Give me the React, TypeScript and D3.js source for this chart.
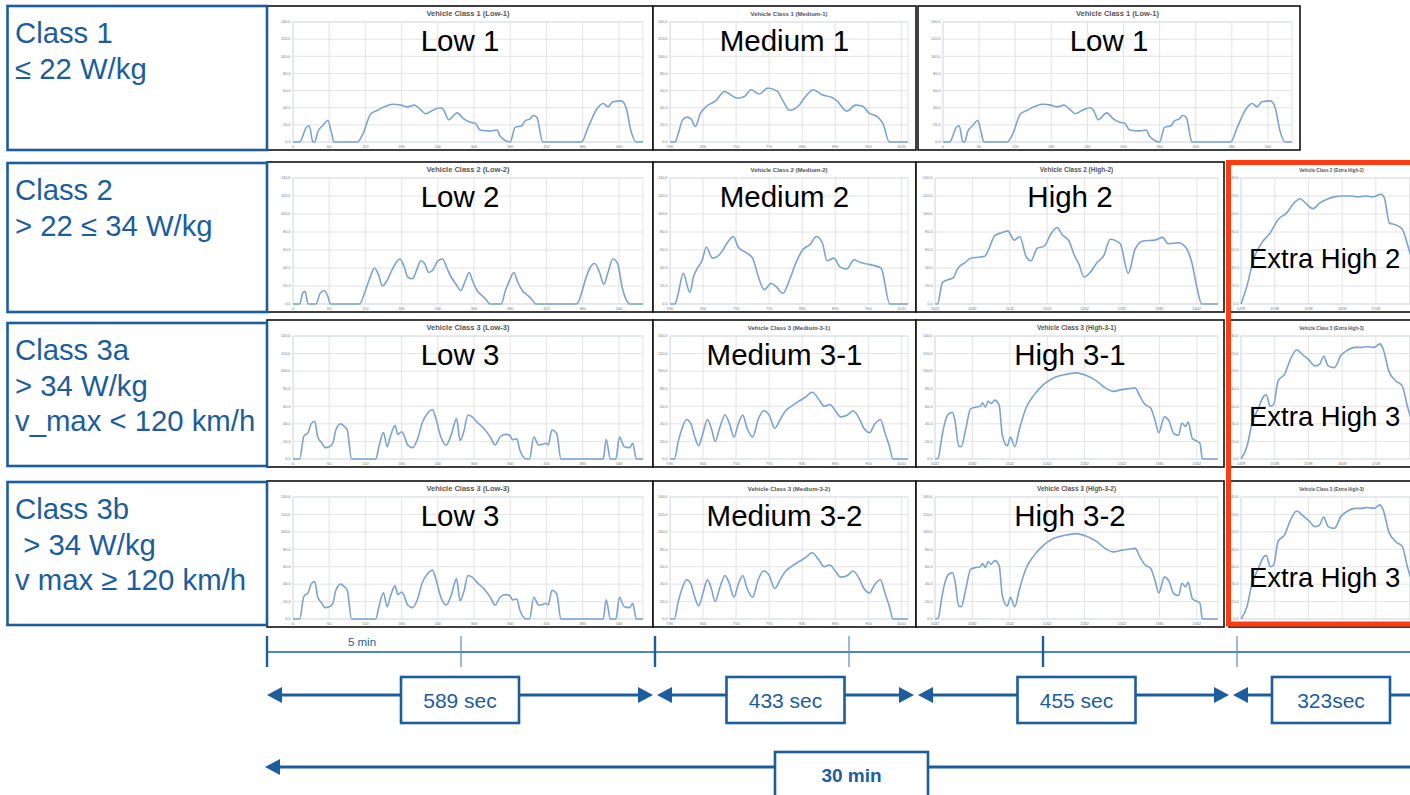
import React from "react";
import * as d3 from "d3";

type Pt = [number, number];

// ---------------- data (time in s, speed in km/h) ----------------
const low1: Pt[] = [
  [0, 0], [11, 0], [22, 17], [27, 19], [33, 0], [36, 0], [41, 12], [49, 19], [58, 25], [63, 13], [68, 0],
  [107, 0], [115, 8], [129, 33], [140, 37], [151, 41], [165, 44], [179, 43], [190, 41], [201, 43], [211, 38],
  [220, 33], [234, 38], [245, 40], [250, 37], [258, 26], [272, 34], [283, 27], [294, 23], [302, 22], [310, 14],
  [327, 13], [338, 14], [343, 7], [360, 0], [368, 17], [379, 19], [385, 25], [393, 27], [398, 31], [404, 29],
  [414, 0], [478, 0], [489, 17], [503, 38], [514, 45], [522, 41], [530, 47], [544, 48], [552, 40], [560, 13],
  [569, 0], [580, 0],
];
const medium1: Pt[] = [
  [590, 0], [599, 0], [605, 10], [613, 26], [621, 29], [628, 27], [636, 18], [645, 33], [657, 42], [673, 48],
  [689, 59], [700, 55], [712, 51], [725, 53], [737, 61], [752, 56], [768, 63], [785, 59], [795, 48], [807, 37],
  [823, 42], [836, 53], [850, 61], [866, 55], [884, 52], [893, 48], [911, 36], [927, 43], [939, 42], [951, 34],
  [967, 29], [977, 21], [988, 0], [1022, 0],
];
const low2: Pt[] = [
  [0, 0], [11, 0], [16, 12], [20, 14], [25, 0], [38, 0], [45, 12], [52, 15], [58, 8], [62, 0], [110, 0],
  [120, 15], [128, 30], [135, 40], [142, 32], [148, 20], [155, 25], [162, 35], [170, 45], [177, 50], [184, 42],
  [190, 30], [198, 28], [205, 38], [212, 48], [218, 45], [225, 35], [232, 38], [240, 48], [248, 50], [255, 40],
  [262, 30], [270, 22], [278, 15], [285, 25], [292, 35], [298, 25], [305, 15], [312, 10], [320, 5], [326, 0],
  [345, 0], [352, 15], [360, 28], [366, 35], [372, 25], [380, 15], [388, 10], [396, 5], [402, 0], [470, 0],
  [478, 12], [485, 28], [492, 40], [500, 45], [508, 35], [515, 22], [522, 35], [530, 50], [538, 45], [545, 20],
  [552, 5], [558, 0], [580, 0],
];
const medium2: Pt[] = [
  [590, 0], [599, 0], [605, 12], [614, 34], [626, 13], [633, 31], [639, 39], [648, 48], [656, 63], [667, 51],
  [676, 53], [685, 59], [694, 68], [705, 75], [714, 63], [728, 57], [740, 51], [749, 33], [761, 16], [774, 23],
  [783, 19], [795, 12], [807, 27], [820, 48], [832, 61], [844, 66], [856, 75], [867, 67], [875, 48], [887, 51],
  [899, 41], [911, 39], [924, 49], [936, 46], [951, 44], [973, 40], [989, 0], [1022, 0],
];
const high2: Pt[] = [
  [1022, 0], [1026, 0], [1034, 24], [1043, 27], [1051, 29], [1059, 40], [1070, 46], [1080, 51], [1091, 52],
  [1102, 53], [1107, 59], [1118, 76], [1128, 79], [1139, 81], [1149, 71], [1158, 75], [1168, 53], [1176, 48],
  [1186, 62], [1197, 64], [1208, 78], [1218, 85], [1226, 77], [1237, 70], [1245, 55], [1253, 44], [1261, 30],
  [1272, 36], [1282, 46], [1293, 54], [1303, 72], [1319, 67], [1332, 34], [1343, 61], [1356, 70], [1375, 71],
  [1387, 74], [1396, 67], [1412, 68], [1423, 64], [1434, 46], [1442, 19], [1450, 0], [1476, 0],
];
const extraHigh2: Pt[] = [
  [1478, 0], [1489, 21], [1500, 49], [1515, 68], [1530, 79], [1544, 94], [1559, 101], [1572, 112], [1583, 117],
  [1593, 112], [1606, 106], [1618, 112], [1630, 116], [1644, 119], [1659, 120], [1674, 120], [1686, 119],
  [1700, 120], [1713, 119], [1727, 122], [1733, 118], [1742, 90], [1753, 88], [1765, 83], [1777, 60],
  [1789, 35], [1800, 0],
];
const low3: Pt[] = [
  [0, 0], [11, 0], [18, 26], [25, 30], [30, 40], [36, 43], [41, 25], [48, 18], [53, 13], [60, 14], [66, 18],
  [71, 33], [79, 40], [85, 37], [90, 33], [97, 0], [137, 0], [143, 16], [150, 30], [156, 14], [161, 25], [169, 38],
  [174, 28], [180, 31], [184, 27], [190, 16], [198, 13], [206, 22], [214, 41], [223, 52], [231, 56], [236, 48],
  [245, 25], [254, 16], [262, 27], [271, 46], [277, 21], [283, 31], [290, 50], [297, 48], [305, 42], [316, 35],
  [327, 25], [335, 16], [343, 25], [352, 28], [359, 27], [364, 22], [371, 23], [376, 10], [387, 0], [392, 0],
  [399, 25], [407, 16], [415, 17], [419, 18], [423, 16], [429, 33], [437, 29], [444, 0], [514, 0], [519, 22],
  [526, 0], [535, 0], [541, 25], [549, 14], [558, 13], [563, 18], [569, 0], [580, 0],
];
const medium31: Pt[] = [
  [590, 0], [598, 0], [605, 20], [612, 35], [620, 45], [628, 40], [635, 25], [642, 15], [650, 30], [658, 45],
  [665, 35], [672, 20], [680, 35], [690, 50], [698, 40], [706, 25], [714, 40], [722, 50], [730, 35], [740, 25],
  [750, 45], [760, 55], [770, 50], [780, 35], [790, 45], [800, 55], [810, 60], [822, 65], [835, 70], [848, 76],
  [860, 68], [870, 60], [880, 62], [890, 55], [900, 48], [912, 50], [922, 55], [932, 48], [942, 35], [952, 30],
  [962, 40], [972, 45], [980, 30], [988, 15], [995, 0], [1022, 0],
];
const high31: Pt[] = [
  [1022, 0], [1027, 1], [1033, 25], [1038, 42], [1045, 52], [1050, 53], [1054, 44], [1060, 15], [1064, 14],
  [1071, 33], [1079, 57], [1087, 59], [1095, 60], [1098, 64], [1103, 59], [1107, 66], [1112, 63], [1118, 67],
  [1125, 61], [1130, 27], [1138, 15], [1143, 25], [1150, 14], [1157, 33], [1168, 58], [1181, 73], [1195, 84],
  [1211, 92], [1230, 96], [1249, 98], [1265, 95], [1281, 89], [1295, 81], [1308, 77], [1322, 79], [1332, 80],
  [1343, 81], [1351, 71], [1359, 62], [1368, 58], [1375, 44], [1381, 30], [1390, 48], [1397, 44], [1405, 29],
  [1413, 27], [1418, 41], [1424, 37], [1428, 42], [1435, 23], [1440, 21], [1447, 18], [1451, 0], [1476, 0],
];
const medium32: Pt[] = medium31.map((d) => [d[0], d[1]] as Pt);
const high32: Pt[] = high31.map((d) => [d[0], d[1]] as Pt);
const extraHigh3: Pt[] = [
  [1478, 0], [1489, 15], [1497, 39], [1509, 58], [1518, 71], [1523, 73], [1530, 60], [1536, 62], [1544, 89],
  [1556, 97], [1565, 112], [1577, 124], [1589, 118], [1600, 112], [1609, 106], [1618, 108], [1625, 117],
  [1633, 106], [1644, 104], [1656, 118], [1668, 124], [1680, 127], [1692, 127], [1703, 128], [1715, 127],
  [1725, 131], [1731, 125], [1741, 100], [1753, 89], [1765, 83], [1774, 60], [1786, 35], [1800, 0],
];

const speedTicks = [0, 20, 40, 60, 80, 100, 120, 140];
const lowTimeTicks = [0, 60, 120, 180, 240, 300, 360, 420, 480, 540];
const mediumTimeTicks = [590, 650, 710, 770, 830, 890, 950, 1010];
const highTimeTicks = [1022, 1082, 1142, 1202, 1262, 1322, 1382, 1442];
const extraTimeTicks = [1478, 1538, 1598, 1658, 1718, 1778];

const classLines: string[][] = [
  ["Class 1", "≤ 22 W/kg"],
  ["Class 2", "> 22 ≤ 34 W/kg"],
  ["Class 3a", "> 34 W/kg", "v_max < 120 km/h"],
  ["Class 3b", " > 34 W/kg", "v max ≥ 120 km/h"],
];
const phaseDurations = ["589 sec", "433 sec", "455 sec", "323sec"];
const totalLabel = "30 min";
const timelineTicks = [0, 300, 600, 900, 1200, 1500, 1800];
const tickLabel = "5 min";

// ---------------- layout ----------------
const W = 1410;
const H = 795;
const BLUE = "#1b5d9d";
const RED = "#ff3b12";
const LINE = "#7aa3d4";
const FONT = "'Liberation Sans', Arial, Helvetica, sans-serif";

type Row = { top: number; bottom: number };
type Col = { x: number; w: number; ml: number; mr: number; ts: number; domain: [number, number]; ticks: number[]; extra?: boolean };

const rows: Row[] = [
  { top: 6, bottom: 150 },
  { top: 162, bottom: 312 },
  { top: 320, bottom: 467 },
  { top: 481, bottom: 627 },
];
const classBoxes = [
  { top: 6, bottom: 150 },
  { top: 163, bottom: 312 },
  { top: 323, bottom: 466 },
  { top: 482, bottom: 625 },
];
const cols: Record<string, Col> = {
  low: { x: 267, w: 386, ml: 26, mr: 10, ts: 7.5, domain: [0, 580], ticks: lowTimeTicks },
  med: { x: 653, w: 263, ml: 17, mr: 8, ts: 6, domain: [590, 1022], ticks: mediumTimeTicks },
  high: { x: 916, w: 308, ml: 19, mr: 6, ts: 6.5, domain: [1022, 1476], ticks: highTimeTicks },
  lowB: { x: 918, w: 382, ml: 25, mr: 8, ts: 7.5, domain: [0, 580], ticks: lowTimeTicks },
  extra: { x: 1229, w: 200, ml: 12, mr: 7, ts: 4.6, domain: [1478, 1800], ticks: extraTimeTicks, extra: true },
};

type PanelSpec = { r: number; c: string; data: Pt[]; title: string; label: string };
const panels: PanelSpec[] = [
  { r: 0, c: "low", data: low1, title: "Vehicle Class 1 (Low-1)", label: "Low 1" },
  { r: 0, c: "med", data: medium1, title: "Vehicle Class 1 (Medium-1)", label: "Medium 1" },
  { r: 0, c: "lowB", data: low1, title: "Vehicle Class 1 (Low-1)", label: "Low 1" },
  { r: 1, c: "low", data: low2, title: "Vehicle Class 2 (Low-2)", label: "Low 2" },
  { r: 1, c: "med", data: medium2, title: "Vehicle Class 2 (Medium-2)", label: "Medium 2" },
  { r: 1, c: "high", data: high2, title: "Vehicle Class 2 (High-2)", label: "High 2" },
  { r: 1, c: "extra", data: extraHigh2, title: "Vehicle Class 2 (Extra High-2)", label: "Extra High 2" },
  { r: 2, c: "low", data: low3, title: "Vehicle Class 3 (Low-3)", label: "Low 3" },
  { r: 2, c: "med", data: medium31, title: "Vehicle Class 3 (Medium-3-1)", label: "Medium 3-1" },
  { r: 2, c: "high", data: high31, title: "Vehicle Class 3 (High-3-1)", label: "High 3-1" },
  { r: 2, c: "extra", data: extraHigh3, title: "Vehicle Class 3 (Extra High-3)", label: "Extra High 3" },
  { r: 3, c: "low", data: low3, title: "Vehicle Class 3 (Low-3)", label: "Low 3" },
  { r: 3, c: "med", data: medium32, title: "Vehicle Class 3 (Medium-3-2)", label: "Medium 3-2" },
  { r: 3, c: "high", data: high32, title: "Vehicle Class 3 (High-3-2)", label: "High 3-2" },
  { r: 3, c: "extra", data: extraHigh3, title: "Vehicle Class 3 (Extra High-3)", label: "Extra High 3" },
];

function Panel({ p, idx }: { p: PanelSpec; idx: number }) {
  const row = rows[p.r];
  const col = cols[p.c];
  const left = col.x + col.ml;
  const right = col.x + col.w - col.mr;
  const top = row.top + 16;
  const bottom = row.bottom - 8;
  const xs = d3.scaleLinear().domain(col.domain).range([left, right]);
  const ys = d3.scaleLinear().domain([0, 140]).range([bottom, top]);
  const line = d3
    .line<Pt>()
    .x((d) => xs(d[0]))
    .y((d) => ys(d[1]))
    .curve(d3.curveMonotoneX);
  const cx = (left + right) / 2;
  const clipId = `clip${idx}`;
  return (
    <g>
      <rect x={col.x} y={row.top} width={col.w} height={row.bottom - row.top} fill="#fff" stroke="#111" strokeWidth={1.6} />
      <text x={cx} y={row.top + 10} fontSize={col.ts} fontWeight="bold" fill="#555" textAnchor="middle" fontFamily={FONT}>
        {p.title}
      </text>
      {speedTicks.map((t) => (
        <g key={"h" + t}>
          <line x1={left} x2={right} y1={ys(t)} y2={ys(t)} stroke="#dcdcdc" strokeWidth={0.8} />
          <text x={left - 2.5} y={ys(t) + 1.3} fontSize={3.8} fill="#777" textAnchor="end" fontFamily={FONT}>
            {`${t},0`}
          </text>
        </g>
      ))}
      {col.ticks.map((t) => (
        <g key={"v" + t}>
          <line x1={xs(t)} x2={xs(t)} y1={top} y2={bottom} stroke="#dcdcdc" strokeWidth={0.8} />
          {xs(t) < W - 8 && (
            <text x={xs(t)} y={bottom + 5.5} fontSize={3.8} fill="#777" textAnchor="middle" fontFamily={FONT}>
              {t}
            </text>
          )}
        </g>
      ))}
      <rect x={left} y={top} width={right - left} height={bottom - top} fill="none" stroke="#d3dfec" strokeWidth={0.8} />
      <defs>
        <clipPath id={clipId}>
          <rect x={col.x} y={row.top} width={col.w} height={row.bottom - row.top} />
        </clipPath>
      </defs>
      <path d={line(p.data) || ""} fill="none" stroke={LINE} strokeWidth={1.6} strokeLinejoin="round" clipPath={`url(#${clipId})`} />
      {col.extra ? (
        <text x={col.x + 20} y={row.top + 106} fontSize={27.5} fill="#000" fontFamily={FONT}>
          {p.label}
        </text>
      ) : (
        <text x={col.x + col.w / 2} y={row.top + 45} fontSize={29.5} fill="#000" textAnchor="middle" fontFamily={FONT}>
          {p.label}
        </text>
      )}
    </g>
  );
}

function ArrowHead({ x, y, dir }: { x: number; y: number; dir: number }) {
  const len = 15;
  const hw = 8;
  return <path d={`M${x},${y} L${x + dir * len},${y - hw} L${x + dir * len},${y + hw} Z`} fill={BLUE} />;
}

export default function App() {
  const tScale = d3.scaleLinear().domain([0, 1800]).range([267, 267 + (194 / 300) * 1800]);
  const segBounds = [265, 655, 916, 1231, 1431];
  const arrowY = 695;
  const totalY = 767;
  return (
    <div style={{ position: "absolute", left: 0, top: 0, width: W, height: H, overflow: "hidden" }}>
      <svg width={W} height={H} viewBox={`0 0 ${W} ${H}`} style={{ display: "block", background: "#fff" }}>
        <rect x={0} y={0} width={W} height={H} fill="#fff" />
        {panels.map((p, i) => (
          <Panel key={i} p={p} idx={i} />
        ))}
        {/* class boxes */}
        {classLines.map((lines, i) => {
          const b = classBoxes[i];
          return (
            <g key={"c" + i}>
              <rect x={7.5} y={b.top} width={259.5} height={b.bottom - b.top} fill="none" stroke={BLUE} strokeWidth={2.6} />
              {lines.map((s, j) => (
                <text key={j} x={15} y={b.top + 37 + j * 35.5} fontSize={29.3} fill={BLUE} fontFamily={FONT} style={{ whiteSpace: "pre" }}>
                  {s}
                </text>
              ))}
            </g>
          );
        })}
        {/* red highlight */}
        <rect x={1228.5} y={162.5} width={300} height={461.5} fill="none" stroke={RED} strokeWidth={5} />
        {/* timeline */}
        <line x1={tScale(0)} x2={W + 10} y1={652} y2={652} stroke={BLUE} strokeWidth={1.5} />
        {timelineTicks.map((t, i) => (
          <line
            key={"t" + t}
            x1={tScale(t)}
            x2={tScale(t)}
            y1={636}
            y2={667}
            stroke={i % 2 === 0 ? BLUE : "#5b8ec0"}
            strokeWidth={i % 2 === 0 ? 2.4 : 1.2}
          />
        ))}
        <text x={(tScale(0) + tScale(300)) / 2 - 2} y={646} fontSize={11.5} fill={BLUE} textAnchor="middle" fontFamily={FONT}>
          {tickLabel}
        </text>
        {phaseDurations.map((lab, i) => {
          const x1 = segBounds[i] + 2;
          const x2 = segBounds[i + 1] - 2;
          const cx = (x1 + x2) / 2 + (i === 2 ? 3 : 0);
          return (
            <g key={"s" + i}>
              <line x1={x1 + 10} x2={x2 - 10} y1={arrowY} y2={arrowY} stroke={BLUE} strokeWidth={3} />
              <ArrowHead x={x1} y={arrowY} dir={1} />
              <ArrowHead x={x2} y={arrowY} dir={-1} />
              <rect x={cx - 59} y={677} width={118} height={46} fill="#fff" stroke={BLUE} strokeWidth={2.6} />
              <text x={cx} y={708} fontSize={21} fill={BLUE} textAnchor="middle" fontFamily={FONT}>
                {lab}
              </text>
            </g>
          );
        })}
        <line x1={tScale(0) + 8} x2={W + 10} y1={totalY} y2={totalY} stroke={BLUE} strokeWidth={3} />
        <ArrowHead x={265} y={totalY} dir={1} />
        <rect x={775} y={752} width={153} height={60} fill="#fff" stroke={BLUE} strokeWidth={2.6} />
        <text x={851.5} y={782} fontSize={19} fontWeight="bold" fill={BLUE} textAnchor="middle" fontFamily={FONT}>
          {totalLabel}
        </text>
      </svg>
    </div>
  );
}
